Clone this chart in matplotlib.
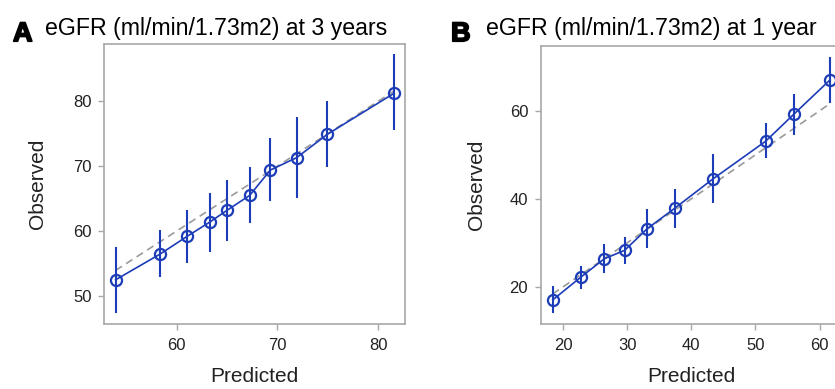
import matplotlib
matplotlib.use("Agg")
import matplotlib.pyplot as plt
import matplotlib.patheffects as pe

plt.rcParams['font.family'] = ['Liberation Sans', 'DejaVu Sans']

# Panel A: eGFR at 3 years
pred_a = [53.95, 58.4, 61.05, 63.3, 65.0, 67.25, 69.3, 71.9, 74.95, 81.55]
obs_a = [52.5, 56.5, 59.2, 61.4, 63.2, 65.5, 69.4, 71.3, 74.9, 81.2]
lo_a = [47.4, 52.9, 55.1, 56.8, 58.4, 61.2, 64.6, 65.1, 69.8, 75.6]
hi_a = [57.6, 60.2, 63.2, 65.9, 67.9, 69.8, 74.3, 77.6, 80.1, 87.2]
xticks_a = [60, 70, 80]
yticks_a = [50, 60, 70, 80]

# Panel B: eGFR at 1 year
pred_b = [18.4, 22.85, 26.45, 29.6, 33.15, 37.45, 43.35, 51.6, 56.0, 61.65]
obs_b = [17.05, 22.3, 26.4, 28.3, 33.25, 37.9, 44.5, 53.1, 59.25, 67.05]
lo_b = [14.0, 19.6, 23.25, 25.2, 28.8, 33.3, 39.0, 49.25, 54.5, 61.75]
hi_b = [20.1, 24.8, 29.7, 31.4, 37.7, 42.3, 50.2, 57.2, 63.8, 72.3]
xticks_b = [20, 30, 40, 50, 60]
yticks_b = [20, 40, 60]

titles = ["eGFR (ml/min/1.73m2) at 3 years", "eGFR (ml/min/1.73m2) at 1 year"]
letters = ["A", "B"]

W, H = 835, 389
fig = plt.figure(figsize=(W / 100, H / 100), dpi=100)

BLUE = '#1c3cb8'
GRAY = '#a8a8a8'


def px_axes(left, top, right, bottom):
    return fig.add_axes([left / W, 1 - bottom / H, (right - left) / W, (bottom - top) / H])


def draw(ax, pred, obs, lo, hi, xlim, ylim, xt, yt, xlab_x):
    ax.plot([pred[0], pred[-1]], [pred[0], pred[-1]], ls=(0, (4.5, 3)), color='#9a9a9a', lw=1.2, zorder=1)
    yerr = [[o - l for o, l in zip(obs, lo)], [h - o for o, h in zip(obs, hi)]]
    ax.errorbar(pred, obs, yerr=yerr, fmt='none', ecolor=BLUE, elinewidth=1.5, capsize=0, zorder=2)
    ax.plot(pred, obs, color=BLUE, lw=1.2, marker='o', ms=8, mfc='none', mec=BLUE, mew=1.6, zorder=3)
    ax.set_xlim(*xlim)
    ax.set_ylim(*ylim)
    ax.set_xticks(xt)
    ax.set_yticks(yt)
    for s in ax.spines.values():
        s.set_color(GRAY)
        s.set_linewidth(1.2)
    ax.tick_params(direction='out', length=4, width=1, color=GRAY, labelsize=12, labelcolor='#222222')
    ax.tick_params(axis='x', pad=6)
    ax.tick_params(axis='y', pad=5)
    ax.set_xlabel('Predicted', fontsize=15, color='#222222')
    ax.set_ylabel('Observed', fontsize=15, color='#222222')
    ax.xaxis.set_label_coords(0.5, -0.155)
    ax.yaxis.set_label_coords(xlab_x, 0.5)


axA = px_axes(104, 44, 405, 324)
draw(axA, pred_a, obs_a, lo_a, hi_a, (52.8, 82.65), (45.7, 88.8), xticks_a, yticks_a, -0.19)

axB = px_axes(540.7, 45.7, 842, 324.3)
draw(axB, pred_b, obs_b, lo_b, hi_b, (16.52, 63.5), (11.5, 74.8), xticks_b, yticks_b, -0.18)

heavy = [pe.withStroke(linewidth=1.3, foreground='black')]
fig.text(13 / W, 1 - 41.2 / H, letters[0], fontsize=19.5, fontweight='bold', va='baseline', ha='left',
         path_effects=heavy)
fig.text(45 / W, 1 - 35 / H, titles[0], fontsize=16.7, va='baseline', ha='left')
fig.text(451 / W, 1 - 41.2 / H, letters[1], fontsize=19.5, fontweight='bold', va='baseline', ha='left',
         path_effects=heavy)
fig.text(486.5 / W, 1 - 35 / H, titles[1], fontsize=16.7, va='baseline', ha='left')

fig.savefig('out.png', dpi=100)
